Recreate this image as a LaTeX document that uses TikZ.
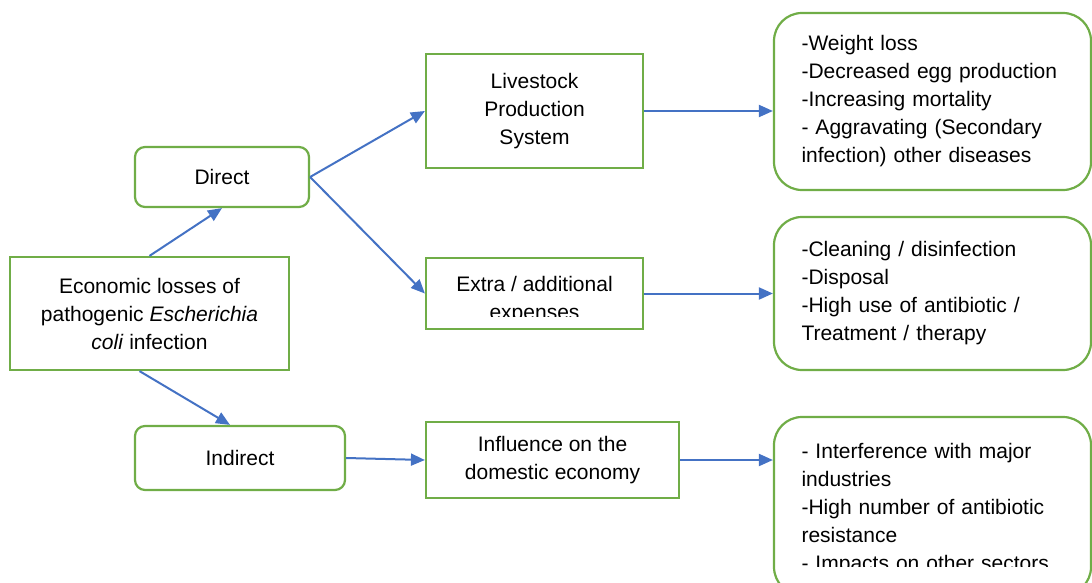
\documentclass[tikz,border=0pt]{standalone}
\usepackage{fontspec}
\setmainfont{Liberation Sans}
\usepackage{color}
\usetikzlibrary{arrows.meta}
\usetikzlibrary{positioning}
\definecolor{boxgreen}{HTML}{70AD47}
\definecolor{arrowblue}{HTML}{4472C4}
\tikzset{every picture/.style={line width=2.2pt}}

\begin{document}
\begin{tikzpicture}[x=1pt,y=-1pt,font=\fontsize{21}{28}\selectfont,
sq/.style={draw=boxgreen, inner sep=0pt, align=center},
rd/.style={sq, rounded corners=10pt},
big/.style={draw=boxgreen, rounded corners=28pt, minimum width=317pt, text width=262pt, inner sep=0pt, align=left},
arr/.style={draw=arrowblue, line width=2pt, -{Triangle[length=14pt,width=12pt]}}]
\useasboundingbox (0,0) rectangle (1092,583);
% left part
\node (econ) at (149.5,313.5) [sq, minimum width=279pt, minimum height=113pt] {Economic losses of\\pathogenic \textit{Escherichia}\\\textit{coli} infection};
\node (direct) at (222,177) [rd, minimum width=174pt, minimum height=60pt] {Direct};
\node (indirect) at (240,458) [rd, minimum width=210pt, minimum height=64pt] {Indirect};
% middle part
\node (live) at (534.5,111) [sq, minimum width=217pt, minimum height=114pt] {Livestock\\Production\\System};
\node (extra) at (534.5,293.5) [sq, minimum width=217pt, minimum height=71pt] {};
\begin{scope}
\clip (426,258) rectangle (643,316);
\node (extratxt) at (534.5,300) [align=center, inner sep=0pt] {Extra / additional\\expenses};
\end{scope}
\node (infl) at (552.5,460) [sq, minimum width=253pt, minimum height=76pt] {Influence on the\\domestic economy};
% right part
\node (r1) at (932.5,101.5) [big, minimum height=177pt] {-Weight loss\\-Decreased egg production\\-Increasing mortality\\- Aggravating (Secondary\\infection) other diseases};
\node (r2) at (932.5,293.5) [big, minimum height=153pt] {-Cleaning / disinfection\\-Disposal\\-High use of antibiotic /\\Treatment / therapy\\[-3pt]};
\node (r3) at (932.5,506) [big, minimum height=178pt] {};
\begin{scope}
\clip (774,417) rectangle (1092,566);
\node (r3txt) at (932.5,509) [text width=262pt, inner sep=0pt, align=left] {- Interference with major\\industries\\-High number of antibiotic\\resistance\\- Impacts on other sectors};
\end{scope}
% arrows
\draw[arr] (econ.north) -- (direct.south);
\draw[arr] ([xshift=-10pt]econ.south) -- ([xshift=-10pt]indirect.north);
\draw[arr] (direct.east) -- (live.west);
\draw[arr] (direct.east) -- (extra.west);
\draw[arr] (indirect.east) -- (infl.west);
\draw[arr] (live.east) -- (r1.west |- live.east);
\draw[arr] (extra.east) -- (r2.west |- extra.east);
\draw[arr] (infl.east) -- (r3.west |- infl.east);
\end{tikzpicture}
\end{document}
